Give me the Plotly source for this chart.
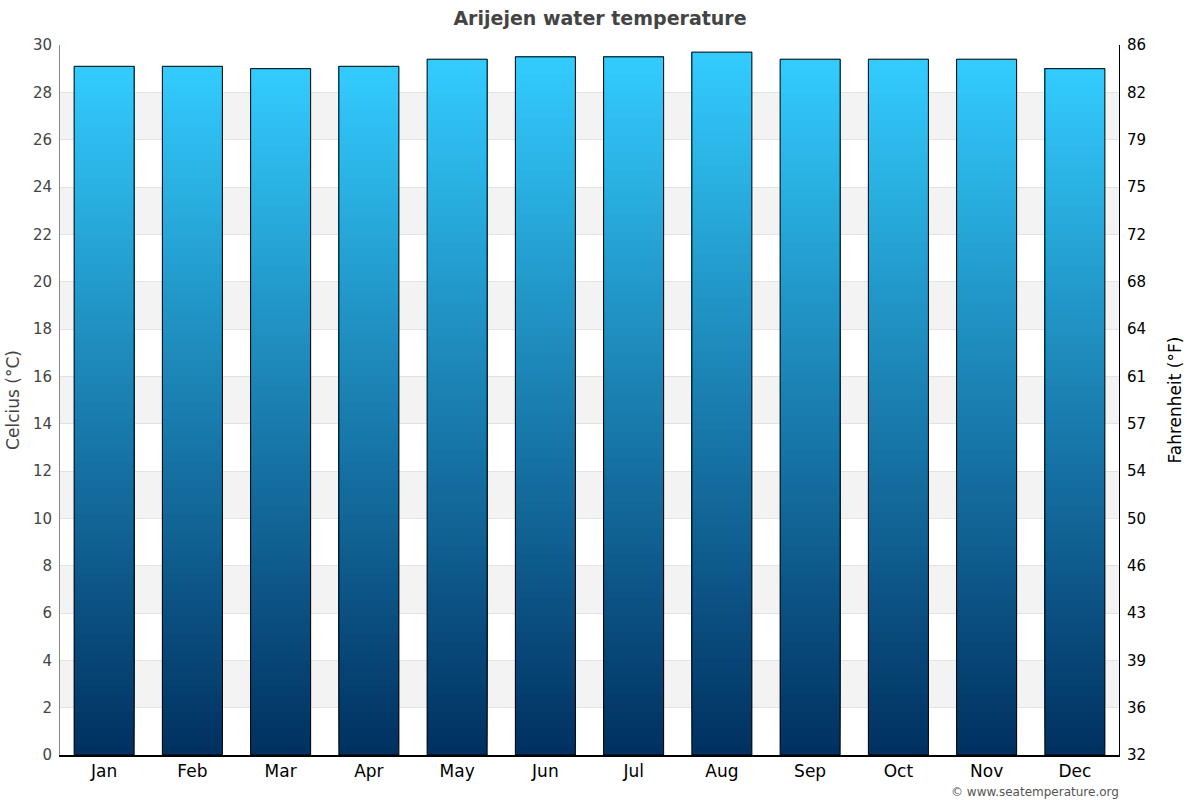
import plotly.graph_objects as go

months = ["Jan", "Feb", "Mar", "Apr", "May", "Jun",
          "Jul", "Aug", "Sep", "Oct", "Nov", "Dec"]
water_c = [29.1, 29.1, 29.0, 29.1, 29.4, 29.5, 29.5, 29.7, 29.4, 29.4, 29.4, 29.0]
c_ticks = list(range(0, 31, 2))
f_labels = [str(round(c * 1.8 + 32)) for c in c_ticks]

FONT = "DejaVu Sans"
TOP = (51, 204, 255)
BOTTOM = (0, 48, 96)
STEPS = 80


def mix(t):
    r, g, b = (round(BOTTOM[i] + (TOP[i] - BOTTOM[i]) * t) for i in range(3))
    return f"rgb({r},{g},{b})"


fig = go.Figure()

# gradient fill: each slice runs from its base to the bar top, later ones
# paint over earlier ones so no seams show
for k in range(STEPS):
    bases = [v * k / STEPS for v in water_c]
    fig.add_trace(go.Bar(
        x=months,
        y=[v - b for v, b in zip(water_c, bases)],
        base=bases,
        marker=dict(color=mix((k + 0.5) / STEPS), line=dict(width=0)),
        hoverinfo="skip",
        showlegend=False,
    ))

# outline on top
fig.add_trace(go.Bar(
    x=months,
    y=water_c,
    marker=dict(color="rgba(0,0,0,0)", line=dict(color="black", width=1)),
    showlegend=False,
    hovertemplate="%{x}: %{y} °C<extra></extra>",
))

# invisible trace so the Fahrenheit axis is drawn
fig.add_trace(go.Scatter(x=months, y=[None] * len(months), yaxis="y2",
                         showlegend=False, hoverinfo="skip"))

# alternating background bands
shapes = []
for lo in c_ticks[1:-1:2]:
    shapes.append(dict(type="rect", xref="paper", yref="y", x0=0, x1=1,
                       y0=lo, y1=lo + 2, fillcolor="#f3f3f3",
                       line=dict(width=0), layer="below"))

fig.update_layout(
    width=1200, height=800,
    margin=dict(l=60, r=81, t=45, b=45),
    barmode="overlay", bargap=0.32,
    plot_bgcolor="white", paper_bgcolor="white",
    font=dict(family=FONT, color="#444"),
    title=dict(text="<b>Arijejen water temperature</b>", x=0.5, y=1 - 18 / 800,
               yanchor="middle", font=dict(size=19, color="#444")),
    shapes=shapes,
    xaxis=dict(
        range=[-0.5, len(months) - 0.5],
        showline=True, linecolor="black", linewidth=2,
        ticks="", tickfont=dict(size=17, color="black"),
        showgrid=False, automargin=False,
    ),
    yaxis=dict(
        range=[0, 30], tickvals=c_ticks,
        showline=True, linecolor="#888", linewidth=1,
        gridcolor="#e3e3e3", zeroline=False, automargin=False,
        tickfont=dict(size=15, color="#444"), ticklabelstandoff=4,
        title=dict(text="Celcius (°C)", font=dict(size=17, color="#444"), standoff=8),
    ),
    yaxis2=dict(
        overlaying="y", side="right", range=[32, 86],
        tickvals=[c * 1.8 + 32 for c in c_ticks], ticktext=f_labels,
        showline=True, linecolor="black", linewidth=1,
        showgrid=False, zeroline=False, automargin=False,
        tickfont=dict(size=15, color="black"), ticklabelstandoff=4,
        title=dict(text="Fahrenheit (°F)", font=dict(size=17, color="black"), standoff=24),
    ),
    annotations=[dict(
        text="© www.seatemperature.org", xref="paper", yref="paper",
        x=1.002, y=-37 / 710, xanchor="right", yanchor="middle", showarrow=False,
        font=dict(size=12, color="#555"),
    )],
)

fig.write_html("out.html", config={"displayModeBar": False},
               post_script="document.body.style.margin='0px';")
